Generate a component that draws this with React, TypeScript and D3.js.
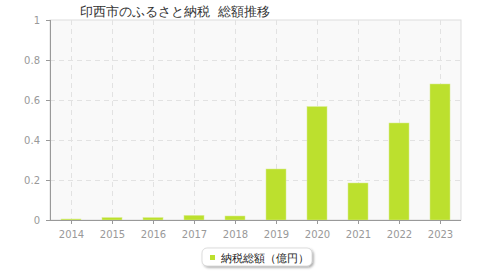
import React from "react";
import * as d3 from "d3";

const years = ["2014", "2015", "2016", "2017", "2018", "2019", "2020", "2021", "2022", "2023"];
const values = [0.005, 0.012, 0.012, 0.023, 0.02, 0.255, 0.567, 0.185, 0.485, 0.68];
const yTicks = [0, 0.2, 0.4, 0.6, 0.8, 1];
const title = "印西市のふるさと納税  総額推移";
const seriesName = "納税総額（億円）";

export default function App() {
  const W = 480, H = 280;
  const left = 50, right = 461, top = 20, bottom = 220;
  const x = d3.scaleBand<string>().domain(years).range([left, right]).paddingInner(0).paddingOuter(0);
  const y = d3.scaleLinear().domain([0, 1]).range([bottom, top]);
  const barW = 20;
  const font = "'DejaVu Sans', sans-serif";
  const fmt = (v: number) => (v === 0 ? "0" : v === 1 ? "1" : v.toFixed(1));
  return (
    <svg width={W} height={H} style={{ position: "absolute", left: 0, top: 0 }} fontFamily={font}>
      <defs>
        <filter id="sh" x="-10%" y="-30%" width="130%" height="180%">
          <feDropShadow dx="1.5" dy="1.5" stdDeviation="1" floodColor="#000" floodOpacity="0.35" />
        </filter>
      </defs>
      <rect x={0} y={0} width={W} height={H} fill="#fff" />
      <text x={80} y={16} fontSize={12.5} fill="#333" style={{ whiteSpace: "pre" }}>{title}</text>
      <rect x={left} y={top} width={right - left} height={bottom - top} fill="#f9f9f9" stroke="#ddd" strokeWidth={1} />
      {yTicks.filter(t => t > 0 && t < 1).map(t => (
        <line key={t} x1={left} x2={right} y1={y(t) + 0.5} y2={y(t) + 0.5} stroke="#e2e2e2" strokeDasharray="5,4" />
      ))}
      {years.map(yr => (
        <line key={yr} x1={Math.round(x(yr)! + x.bandwidth() / 2) + 0.5} x2={Math.round(x(yr)! + x.bandwidth() / 2) + 0.5} y1={top} y2={bottom} stroke="#e2e2e2" strokeDasharray="5,4" />
      ))}
      {years.map((yr, i) => {
        const cx = x(yr)! + x.bandwidth() / 2;
        return (
          <rect key={yr} x={Math.round(cx - barW / 2)} y={y(values[i])} width={barW} height={bottom - y(values[i])} fill="#bce02e" stroke="#d8ec90" strokeWidth={0.5} />
        );
      })}
      <line x1={left + 0.5} x2={left + 0.5} y1={top} y2={bottom} stroke="#999" />
      <line x1={left} x2={right} y1={bottom + 0.5} y2={bottom + 0.5} stroke="#999" />
      {yTicks.map(t => (
        <g key={t}>
          <line x1={left - 4} x2={left} y1={y(t) + 0.5} y2={y(t) + 0.5} stroke="#999" />
          <text x={40} y={y(t) + 3.5} fontSize={10} fill="#999" textAnchor="end">{fmt(t)}</text>
        </g>
      ))}
      {years.map(yr => {
        const cx = Math.round(x(yr)! + x.bandwidth() / 2) + 0.5;
        return (
          <g key={yr}>
            <line x1={cx} x2={cx} y1={bottom} y2={bottom + 4} stroke="#999" />
            <text x={cx} y={238} fontSize={10} fill="#999" textAnchor="middle">{yr}</text>
          </g>
        );
      })}
      <rect x={202} y={248} width={110} height={18} rx={5} fill="#fff" stroke="#bbb" strokeWidth={0.5} filter="url(#sh)" />
      <rect x={210} y={255} width={5} height={5} fill="#bce02e" />
      <text x={221} y={262} fontSize={11} fill="#222">{seriesName}</text>
    </svg>
  );
}
